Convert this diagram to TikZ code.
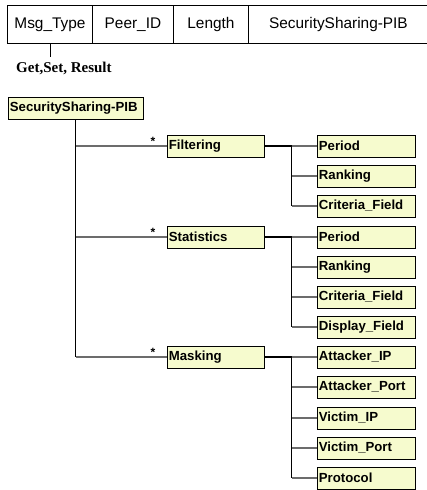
\documentclass[tikz,border=0pt]{standalone}
\usepackage{fontspec}
\setmainfont{Liberation Serif}
\setsansfont{Liberation Sans}
\usepackage{tikz}
\usetikzlibrary{positioning}
\definecolor{pibfill}{RGB}{246,251,206}

\begin{document}
\begin{tikzpicture}[
            x=1pt, y=-1pt,
            cell/.style={draw, line width=0.9pt, anchor=north west, minimum height=38, inner sep=0pt, font=\fontsize{15.4}{18}\selectfont\sffamily},
            box/.style={draw, fill=pibfill, line width=0.8pt, anchor=west, minimum height=22, inner xsep=1.5pt, inner ysep=0pt, align=left, font=\fontsize{13.2}{15}\selectfont\sffamily\bfseries},
            trunk/.style={line width=1.1pt, black},
            branch/.style={line width=1.4pt, gray!85!black},
            star/.style={inner sep=0pt, font=\fontsize{12}{12}\selectfont\sffamily\bfseries}
        ]
        \useasboundingbox (0,0) rectangle (426,490);

        % 1. X-coordinates of the three tree columns
        \def\Xroot{8}
        \def\Xmid{167}
        \def\Xleaf{317}

        % 2. Message header
        \node[cell, minimum width=85] (msg) at (7,5) {Msg\_Type};
        \node[cell, minimum width=81] (peer) at (92,5) {Peer\_ID};
        \node[cell, minimum width=75] (len) at (173,5) {Length};
        \node[cell, minimum width=180] (hpib) at (248,5) {SecuritySharing-PIB};

        \coordinate (msgtick) at (msg.south |- 0,57);
        \draw[line width=0.9pt] (msg.south) -- (msgtick);
        \node[anchor=west, inner sep=0pt, font=\fontsize{15}{17}\selectfont\bfseries] (gsr) at (16,68) {Get,Set, Result};

        % 3. Root and second level
        \node[box, text width=132pt] (root) at (\Xroot,108) {SecuritySharing-PIB};
        \node[box, text width=94pt] (filt) at (\Xmid,146) {Filtering};
        \node[box, text width=94pt] (stat) at (\Xmid,237) {Statistics};
        \node[box, text width=94pt] (mask) at (\Xmid,357) {Masking};

        \draw[trunk] (root.south) -- (root.south |- mask.west);
        \draw[branch] (root.south |- filt.west) -- (filt.west);
        \draw[branch] (root.south |- stat.west) -- (stat.west);
        \draw[branch] (root.south |- mask.west) -- (mask.west);

        \node[star] (sfilt) at (153,141) {*};
        \node[star] (sstat) at (153,232) {*};
        \node[star] (smask) at (153,352) {*};

        % --- FILTERING ---
        \node[box, text width=95pt] (fper) at (\Xleaf,146) {Period};
        \node[box, text width=95pt] (frank) at (\Xleaf,176) {Ranking};
        \node[box, text width=95pt] (fcrit) at (\Xleaf,206) {Criteria\_Field};

        \draw[trunk] (filt.east) -- ++(27,0) coordinate (ffork);
        \draw[trunk] (ffork) -- (ffork |- fcrit.west);
        \draw[branch] (ffork) -- (fper.west);
        \draw[branch] (ffork |- frank.west) -- (frank.west);
        \draw[branch] (ffork |- fcrit.west) -- (fcrit.west);

        % --- STATISTICS ---
        \node[box, text width=95pt] (sper) at (\Xleaf,237) {Period};
        \node[box, text width=95pt] (srank) at (\Xleaf,267) {Ranking};
        \node[box, text width=95pt] (scrit) at (\Xleaf,297) {Criteria\_Field};
        \node[box, text width=95pt] (sdisp) at (\Xleaf,327) {Display\_Field};

        \draw[trunk] (stat.east) -- ++(27,0) coordinate (sfork);
        \draw[trunk] (sfork) -- (sfork |- sdisp.west);
        \draw[branch] (sfork) -- (sper.west);
        \draw[branch] (sfork |- srank.west) -- (srank.west);
        \draw[branch] (sfork |- scrit.west) -- (scrit.west);
        \draw[branch] (sfork |- sdisp.west) -- (sdisp.west);

        % --- MASKING ---
        \node[box, text width=95pt] (aip) at (\Xleaf,357) {Attacker\_IP};
        \node[box, text width=95pt] (aport) at (\Xleaf,387) {Attacker\_Port};
        \node[box, text width=95pt] (vip) at (\Xleaf,418) {Victim\_IP};
        \node[box, text width=95pt] (vport) at (\Xleaf,448) {Victim\_Port};
        \node[box, text width=95pt] (proto) at (\Xleaf,478) {Protocol};

        \draw[trunk] (mask.east) -- ++(27,0) coordinate (mfork);
        \draw[trunk] (mfork) -- (mfork |- proto.west);
        \draw[branch] (mfork) -- (aip.west);
        \draw[branch] (mfork |- aport.west) -- (aport.west);
        \draw[branch] (mfork |- vip.west) -- (vip.west);
        \draw[branch] (mfork |- vport.west) -- (vport.west);
        \draw[branch] (mfork |- proto.west) -- (proto.west);

\end{tikzpicture}
\end{document}
